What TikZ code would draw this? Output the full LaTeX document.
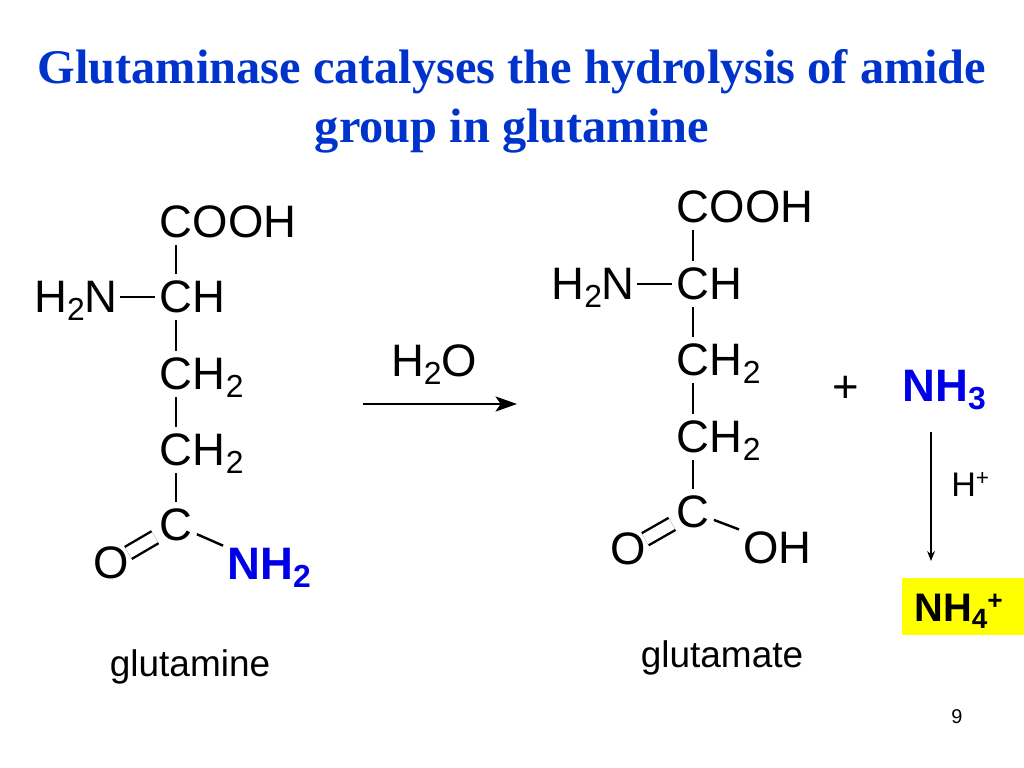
\documentclass[tikz,border=0pt]{standalone}
\usepackage{fontspec}
\setmainfont{Liberation Sans}
\newfontfamily\titlefont{Liberation Serif}
\usetikzlibrary{positioning,arrows.meta}
\definecolor{titleblue}{RGB}{0,51,204}
\definecolor{nhblue}{RGB}{0,0,230}
\definecolor{boxyellow}{RGB}{255,255,0}
\def\atomsub#1{\raisebox{-0.18em}{\scalebox{0.7}{#1}}}
\def\atomsup#1{\raisebox{0.3em}{\scalebox{0.66}{#1}}}
\tikzset{
	atomfont/.style={font=\fontsize{32}{36}\selectfont},
	atom/.style={atomfont, inner sep=0, minimum width=29pt, minimum height=32pt},
	group/.style={atomfont, inner sep=0},
	bond/.style={line width=1.7pt},
	dblbond/.style={bond, double, double distance=8pt, shorten >=-3pt},
	label/.style={font=\fontsize{26}{30}\selectfont, inner sep=0, anchor=base}
}

\begin{document}
\begin{tikzpicture}[x=0.703125pt, y=-0.703125pt]
	\useasboundingbox (0, 0) rectangle (1024, 768);
	
	%%%%% TITLE %%%%%
	\node[font=\titlefont\bfseries\fontsize{34}{41.5}\selectfont, color=titleblue, align=center, inner sep=0] (title) at (512, 101) {Glutaminase catalyses the hydrolysis of amide\\group in glutamine};
	
	%%%%% GLUTAMINE %%%%%
	\node[atom] (qc1) at (176, 222) {C};
	\node[atom] (qc2) at (176, 297) {C};
	\node[atom] (qc3) at (176, 374) {C};
	\node[atom] (qc4) at (176, 450) {C};
	\node[atom] (qc5) at (176, 525) {C};
	\node[atom] (qo) at (111, 563) {O};
	\node[group, base right=-3pt of qc1] (qcooh) {OOH};
	\node[group, base right=-3pt of qc2] (qch) {H};
	\node[group, base right=-3pt of qc3] (qch2a) {H\atomsub{2}};
	\node[group, base right=-3pt of qc4] (qch2b) {H\atomsub{2}};
	\node[group, base left=26pt of qc2] (qnh) {H\atomsub{2}N};
	\node[group, color=nhblue, font=\bfseries\fontsize{32}{36}\selectfont, anchor=base west] (qamide) at (227, 579) {NH\atomsub{2}};
	
	\draw[bond] (qc1) -- (qc2);
	\draw[bond] (qc2) -- (qc3);
	\draw[bond] (qc3) -- (qc4);
	\draw[bond] (qc4) -- (qc5);
	\draw[bond, yshift=1.5pt, shorten <=1pt] (qnh.east |- qc2) -- (qc2);
	\draw[dblbond] (qc5) -- (qo);
	\draw[bond, shorten >=3pt] (qc5) -- (qamide.north west);
	
	\node[label] (qname) at (190, 676) {glutamine};
	
	%%%%% REACTION ARROW %%%%%
	\node[group, anchor=base] (water) at (434, 376) {H\atomsub{2}O};
	\coordinate (arrowa) at (363, 404);
	\coordinate (arrowb) at (517, 404);
	\draw[line width=1.9pt, -{Stealth[length=15pt, width=10.5pt, inset=3.5pt]}] (arrowa) -- (arrowb);
	
	%%%%% GLUTAMATE %%%%%
	\node[atom] (ec1) at (693, 207) {C};
	\node[atom] (ec2) at (693, 284) {C};
	\node[atom] (ec3) at (693, 360) {C};
	\node[atom] (ec4) at (693, 437) {C};
	\node[atom] (ec5) at (693, 512) {C};
	\node[atom] (eo) at (628, 549) {O};
	\node[group, base right=-3pt of ec1] (ecooh) {OOH};
	\node[group, base right=-3pt of ec2] (ech) {H};
	\node[group, base right=-3pt of ec3] (ech2a) {H\atomsub{2}};
	\node[group, base right=-3pt of ec4] (ech2b) {H\atomsub{2}};
	\node[group, base left=26pt of ec2] (enh) {H\atomsub{2}N};
	\node[group, anchor=base west] (eoh) at (743, 563) {OH};
	
	\draw[bond] (ec1) -- (ec2);
	\draw[bond] (ec2) -- (ec3);
	\draw[bond] (ec3) -- (ec4);
	\draw[bond] (ec4) -- (ec5);
	\draw[bond, yshift=1.5pt, shorten <=1pt] (enh.east |- ec2) -- (ec2);
	\draw[dblbond] (ec5) -- (eo);
	\draw[bond, shorten >=3pt] (ec5) -- (eoh.north west);
	
	\node[label] (ename) at (722, 667) {glutamate};
	
	%%%%% AMMONIA %%%%%
	\node[group, anchor=base] (plus) at (846, 402) {+};
	\node[group, color=nhblue, font=\bfseries\fontsize{32}{36}\selectfont, anchor=base west] (nhthree) at (902, 401) {NH\atomsub{3}};
	\node[group, font=\fontsize{24}{28}\selectfont, anchor=base west] (proton) at (951, 496) {H\atomsup{+}};
	\node[fill=boxyellow, inner sep=0, minimum width=85.8pt, minimum height=40pt] (nhbox) at (963, 606.5) {};
	\node[font=\bfseries\fontsize{28}{32}\selectfont, inner sep=0, anchor=base west] (nhfour) at (914, 621) {NH\atomsub{4}\atomsup{+}};
	\coordinate (arrowc) at (931, 432);
	\coordinate (arrowd) at (931, 561);
	\draw[line width=0.75pt, -{Stealth[length=7pt, width=5.5pt]}] (arrowc) -- (arrowd);
	
	\node[font=\fontsize{14}{16}\selectfont, inner sep=0, anchor=base] (pagenum) at (957, 723) {9};
\end{tikzpicture}
\end{document}
